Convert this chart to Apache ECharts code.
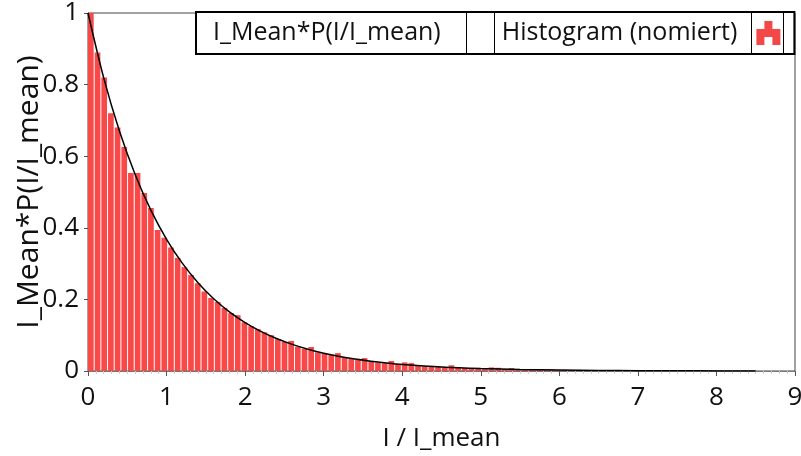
<!DOCTYPE html>
<html>
<head>
<meta charset="utf-8">
<script src="https://cdn.jsdelivr.net/npm/echarts@6/dist/echarts.min.js"></script>
<style>
html,body{margin:0;padding:0;background:#fff;}
#chart{width:801px;height:456px;}
</style>
</head>
<body>
<div id="chart"></div>
<script>
// ---- data ----
const BIN_WIDTH = 0.085;
const histValues = [
  1.0, 0.89, 0.82, 0.72, 0.68, 0.626, 0.553, 0.553, 0.497, 0.455,
  0.394, 0.372, 0.345, 0.316, 0.29, 0.268, 0.245, 0.222, 0.204, 0.193,
  0.176, 0.162, 0.156, 0.136, 0.125, 0.117, 0.108, 0.10, 0.089, 0.081,
  0.084, 0.068, 0.062, 0.067, 0.052, 0.049, 0.045, 0.050, 0.038, 0.034,
  0.031, 0.036, 0.027, 0.024, 0.022, 0.028, 0.019, 0.024, 0.022, 0.015,
  0.013, 0.012, 0.012, 0.010, 0.016, 0.011, 0.008, 0.008, 0.007, 0.006,
  0.010, 0.009, 0.005, 0.008, 0.004, 0.005, 0.003, 0.004, 0.003, 0.004,
  0.002, 0.003, 0.002, 0.003, 0.002, 0.002, 0.001, 0.002, 0.001, 0.001,
  0.002, 0.001, 0.001, 0.0008, 0.001, 0.0006, 0.0008, 0.0005, 0.0006, 0.0004,
  0.0005, 0.0004, 0.0003, 0.0004, 0.0003, 0.0003, 0.0002, 0.0003, 0.0002, 0.0002
];
const curveX = [0, 0.2, 0.4, 0.6, 0.8, 1.0, 1.2, 1.4, 1.6, 1.8, 2.0, 2.2, 2.4, 2.6, 2.8, 3.0,
  3.2, 3.4, 3.6, 3.8, 4.0, 4.5, 5.0, 5.5, 6.0, 6.5, 7.0, 7.5, 8.0, 8.5];
const curveY = [1.0, 0.8187, 0.6703, 0.5488, 0.4493, 0.3679, 0.3012, 0.2466, 0.2019, 0.1653,
  0.1353, 0.1108, 0.0907, 0.0743, 0.0608, 0.0498, 0.0408, 0.0334, 0.0273, 0.0224,
  0.0183, 0.0111, 0.0067, 0.0041, 0.0025, 0.0015, 0.0009, 0.00055, 0.00034, 0.0002];
const xTicks = [0, 1, 2, 3, 4, 5, 6, 7, 8, 9];
const yTicks = [0, 0.2, 0.4, 0.6, 0.8, 1];
const seriesNames = ['I_Mean*P(I/I_mean)', 'Histogram (nomiert)'];
const xTitle = 'I / I_mean';
const yTitle = 'I_Mean*P(I/I_mean)';

// ---- chart ----
const FONT = '"Open Sans", "Noto Sans", sans-serif';
const histData = histValues.map((v, i) => [i * BIN_WIDTH, (i + 1) * BIN_WIDTH, v]);
const curveData = curveX.map((x, i) => [x, curveY[i]]);

const chart = echarts.init(document.getElementById('chart'), null, {renderer: 'canvas'});
chart.setOption({
  animation: false,
  backgroundColor: '#fff',
  textStyle: {fontFamily: FONT},
  grid: {left: 88, right: 6, top: 13, bottom: 85, show: true, borderColor: '#444', borderWidth: 1,
    backgroundColor: 'transparent', containLabel: false, outerBoundsMode: 'none'},
  legend: {
    left: 196, top: 12,
    orient: 'horizontal',
    align: 'right',
    itemWidth: 24, itemHeight: 30,
    itemGap: 7,
    padding: [6, 14, 6, 17],
    borderColor: '#000', borderWidth: 2,
    backgroundColor: '#fff',
    textStyle: {fontFamily: FONT, fontSize: 25, color: '#111'},
    data: [
      {name: seriesNames[0], icon: 'rect', itemStyle: {color: '#fff', borderWidth: 0},
        textStyle: {padding: [0, 25, 0, 0]}},
      {name: seriesNames[1], icon: 'path://M3,0h3v3h-3z M0,3h3v6h-3z M6,3h3v6h-3z M3,3h3v3h-3z',
        itemStyle: {color: '#f44848', borderWidth: 0}, textStyle: {padding: [0, 14, 0, 0]}}
    ]
  },
  graphic: [
    {type: 'line', shape: {x1: 466.5, y1: 13, x2: 466.5, y2: 54}, style: {stroke: '#000', lineWidth: 1}, z: 100},
    {type: 'line', shape: {x1: 494.5, y1: 13, x2: 494.5, y2: 54}, style: {stroke: '#000', lineWidth: 1}, z: 100},
    {type: 'line', shape: {x1: 751.5, y1: 13, x2: 751.5, y2: 54}, style: {stroke: '#000', lineWidth: 1}, z: 100},
    {type: 'line', shape: {x1: 783.5, y1: 13, x2: 783.5, y2: 54}, style: {stroke: '#000', lineWidth: 1}, z: 100}
  ],
  xAxis: {
    type: 'value', min: 0, max: 9, interval: 1,
    name: xTitle, nameLocation: 'middle', nameGap: 55, nameMoveOverlap: false,
    nameTextStyle: {fontSize: 26, color: '#111', fontFamily: FONT},
    axisLine: {lineStyle: {color: '#777'}},
    axisTick: {show: true, length: 5, lineStyle: {color: '#555'}},
    minorTick: {show: true, splitNumber: 10, length: 3, lineStyle: {color: '#ccc'}},
    splitLine: {show: false},
    axisLabel: {fontSize: 26, color: '#111', margin: 14, fontFamily: FONT,
      formatter: v => xTicks.includes(v) ? String(v) : ''}
  },
  yAxis: {
    type: 'value', min: 0, max: 1, interval: 0.2,
    name: yTitle, nameLocation: 'middle', nameGap: 44, nameRotate: 90, nameMoveOverlap: false,
    nameTextStyle: {fontSize: 30, color: '#111', fontFamily: FONT},
    axisLine: {show: true, lineStyle: {color: '#777'}},
    axisTick: {show: true, length: 4, lineStyle: {color: '#555'}},
    splitLine: {show: false},
    axisLabel: {fontSize: 26, color: '#111', margin: 9, fontFamily: FONT,
      formatter: v => {
        const t = yTicks.find(k => Math.abs(k - v) < 1e-9);
        return t === undefined ? '' : String(t);
      }}
  },
  series: [
    {
      name: seriesNames[1],
      type: 'custom',
      z: 2,
      renderItem: function (params, api) {
        const p0 = api.coord([api.value(0), api.value(2)]);
        const p1 = api.coord([api.value(1), 0]);
        return {
          type: 'rect',
          shape: {x: p0[0], y: p0[1], width: Math.max(p1[0] - p0[0] - 1, 0.5), height: p1[1] - p0[1]},
          style: {fill: '#f84848'}
        };
      },
      encode: {x: [0, 1], y: 2},
      itemStyle: {color: '#f44848'},
      data: histData
    },
    {
      name: seriesNames[0],
      type: 'line',
      z: 3,
      smooth: 0.3,
      showSymbol: false,
      symbol: 'none',
      itemStyle: {color: '#fff'},
      lineStyle: {color: '#000', width: 1.5},
      data: curveData
    }
  ]
});
</script>
</body>
</html>
